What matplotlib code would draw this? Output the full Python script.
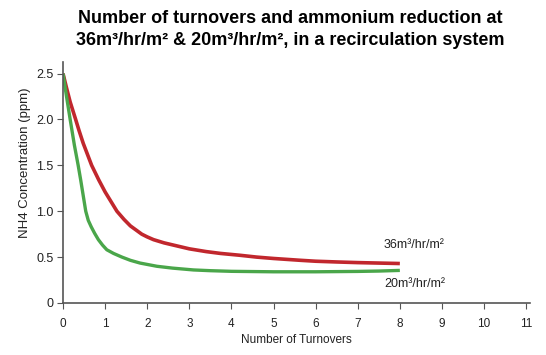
import matplotlib.pyplot as plt

# curve readings (turnovers, NH4 ppm)
x_36 = [0, 0.08, 0.17, 0.3, 0.38, 0.48, 0.58, 0.68, 0.85, 1.0, 1.28, 1.45, 1.6, 1.75, 1.87,
        2.0, 2.15, 2.4, 2.63, 3.0, 3.4, 3.74, 4.2, 4.6, 5.0, 5.64, 6.0, 6.5, 7.0, 7.5, 8.0]
y_36 = [2.5, 2.35, 2.19, 2.0, 1.88, 1.74, 1.62, 1.5, 1.34, 1.21, 1.0, 0.91, 0.84, 0.79, 0.75,
        0.72, 0.69, 0.655, 0.63, 0.59, 0.56, 0.54, 0.52, 0.5, 0.485, 0.465, 0.455, 0.447, 0.44, 0.435, 0.43]

x_20 = [0, 0.08, 0.17, 0.27, 0.36, 0.42, 0.48, 0.54, 0.6, 0.67, 0.75, 0.84, 0.94, 1.04, 1.2,
        1.4, 1.6, 1.83, 2.23, 2.6, 3.1, 3.5, 4.0, 5.0, 6.0, 7.0, 7.5, 8.0]
y_20 = [2.5, 2.26, 2.0, 1.72, 1.5, 1.34, 1.17, 1.0, 0.9, 0.83, 0.76, 0.69, 0.63, 0.58, 0.54,
        0.5, 0.465, 0.435, 0.4, 0.38, 0.36, 0.352, 0.345, 0.34, 0.34, 0.344, 0.348, 0.355]

labels = ['36m³/hr/m²', '20m³/hr/m²']
x_ticks = list(range(0, 12))
y_ticks = [0, 0.5, 1.0, 1.5, 2.0, 2.5]
y_tick_labels = ['0', '0.5', '1.0', '1.5', '2.0', '2.5']

plt.rcParams['font.family'] = ['Liberation Sans', 'DejaVu Sans']

fig = plt.figure(figsize=(5.46, 3.55), dpi=100)
ax = fig.add_axes([0.1154, 0.1465, 0.856, 0.68])

ax.plot(x_36, y_36, color='#c1272d', lw=2.6, solid_capstyle='butt', solid_joinstyle='round')
ax.plot(x_20, y_20, color='#4aa64a', lw=2.4, solid_capstyle='butt', solid_joinstyle='round')

ax.text(7.62, 0.63, labels[0], fontsize=9, color='#222222', va='center')
ax.text(7.62, 0.21, labels[1], fontsize=9, color='#222222', va='center')

ax.set_xlim(0, 11.1)
ax.set_ylim(0, 2.63)
ax.set_xticks(x_ticks)
ax.set_yticks(y_ticks)
ax.set_yticklabels(y_tick_labels)
ax.tick_params(axis='both', colors='#555555', labelcolor='#222222',
               length=4, width=0.8, direction='out')
ax.tick_params(axis='x', labelsize=8.5, pad=7)
ax.tick_params(axis='y', labelsize=9, pad=3)

for s in ['top', 'right']:
    ax.spines[s].set_visible(False)
for s in ['left', 'bottom']:
    ax.spines[s].set_color('#555555')
    ax.spines[s].set_linewidth(1.2)

ax.set_xlabel('Number of Turnovers', fontsize=8.5, color='#222222', labelpad=3)
ax.set_ylabel('NH4 Concentration (ppm)', fontsize=9.5, color='#222222')
ax.yaxis.set_label_coords(-0.068, 0.58)

fig.text(0.531, 0.918, 'Number of turnovers and ammonium reduction at\n'
         '36m³/hr/m² & 20m³/hr/m², in a recirculation system',
         ha='center', va='center', fontsize=13, fontweight='bold', linespacing=1.4)

fig.savefig('out.png', dpi=100)
